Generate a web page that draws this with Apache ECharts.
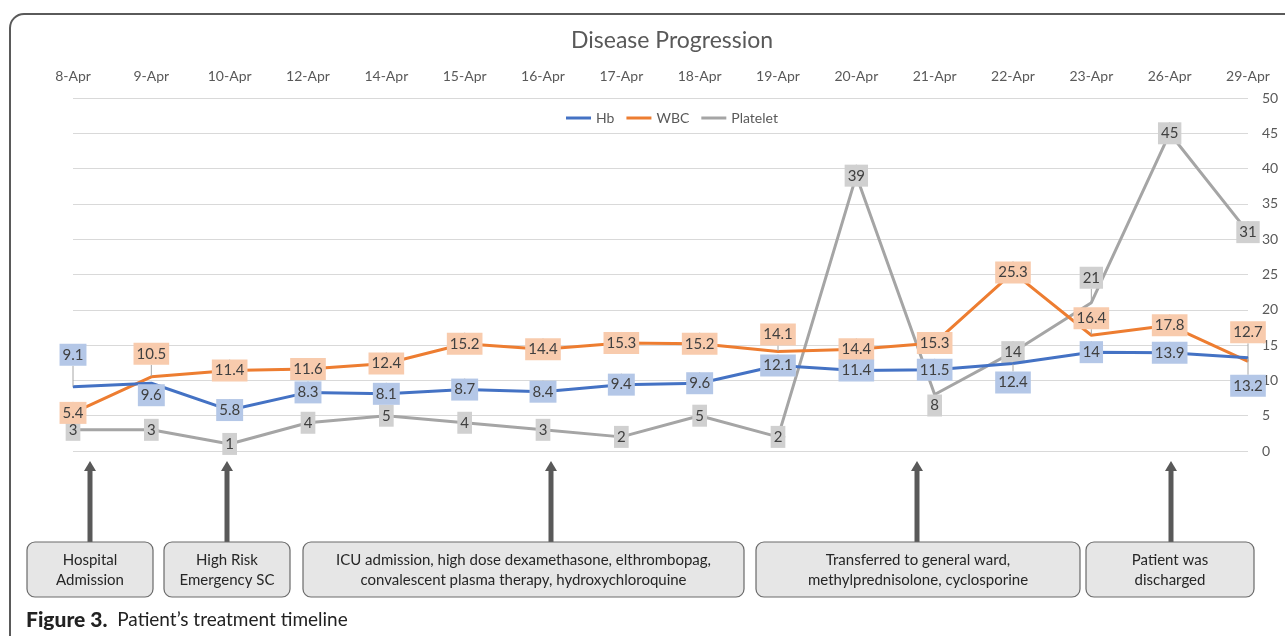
<!DOCTYPE html>
<html><head><meta charset="utf-8">
<script src="https://cdn.jsdelivr.net/npm/echarts@6/dist/echarts.min.js"></script>
<style>html,body{margin:0;padding:0;background:#fff}#c{width:1285px;height:636px}</style>
</head><body><div id="c"></div>
<script>
const categories = ['8-Apr','9-Apr','10-Apr','12-Apr','14-Apr','15-Apr','16-Apr','17-Apr','18-Apr','19-Apr','20-Apr','21-Apr','22-Apr','23-Apr','26-Apr','29-Apr'];
const hb = [9.1, 9.6, 5.8, 8.3, 8.1, 8.7, 8.4, 9.4, 9.6, 12.1, 11.4, 11.5, 12.4, 14, 13.9, 13.2];
const wbc = [5.4, 10.5, 11.4, 11.6, 12.4, 15.2, 14.4, 15.3, 15.2, 14.1, 14.4, 15.3, 25.3, 16.4, 17.8, 12.7];
const platelet = [3, 3, 1, 4, 5, 4, 3, 2, 5, 2, 39, 8, 14, 21, 45, 31];
const yTicks = [0, 5, 10, 15, 20, 25, 30, 35, 40, 45, 50];
const events = [
  'Hospital\nAdmission',
  'High Risk\nEmergency SC',
  'ICU admission, high dose dexamethasone, elthrombopag,\nconvalescent plasma therapy, hydroxychloroquine',
  'Transferred to general ward,\nmethylprednisolone, cyclosporine',
  'Patient was\ndischarged'
];

// label vertical offsets (style only)
const hbDy = [-32, 12, 0, 0, 0, 0, 0, 0, 0, 0, 0, 0, 19, 0, 0, 28];
const wbcDy = [0, -23, 0, 0, 0, 0, 0, 0, 0, -17, 0, 0, 0, -17, 0, -29];
const pltDy = [0, 0, 0, 0, 0, 0, 0, 0, 0, 0, 0, 11, 0, -25, 0, 0];
// annotation layout (pixels)
const boxes = [[27,153,90],[164,290,227],[303,744,551],[756,1080,917],[1086,1254,1171]];

const FONT = 'Lato, "Open Sans", sans-serif';
const chart = echarts.init(document.getElementById('c'), null, {renderer: 'canvas'});

function mkSeries(name, data, color, bg, dys) {
  return {
    name, type: 'line', data,
    symbol: 'circle', symbolSize: 1, showSymbol: true,
    itemStyle: {color},
    lineStyle: {color, width: 3},
    z: name === 'Platelet' ? 3 : (name === 'WBC' ? 4 : 5),
    label: {
      show: true, position: 'inside',
      backgroundColor: bg, padding: [4, 3, 3, 3],
      color: '#404040', fontSize: 15, fontFamily: FONT
    },
    labelLine: {show: true, lineStyle: {color: '#a6a6a6', width: 1}},
    labelLayout: function (p) { return {dy: dys[p.dataIndex]}; }
  };
}

const graphics = [];
graphics.push({type: 'rect', shape: {x: 10, y: 14, width: 1400, height: 800, r: 14},
  style: {fill: 'none', stroke: '#5a5a5a', lineWidth: 2}, silent: true});
boxes.forEach((b, i) => {
  const [x0, x1, ax] = b;
  graphics.push({type: 'rect', shape: {x: ax - 2.5, y: 470, width: 5, height: 72},
    style: {fill: '#595959'}});
  graphics.push({type: 'polygon', shape: {points: [[ax - 6, 471], [ax + 6, 471], [ax, 461]]},
    style: {fill: '#595959'}});
  graphics.push({type: 'rect', shape: {x: x0, y: 542, width: x1 - x0, height: 55, r: 8},
    style: {fill: '#e6e6e6', stroke: '#6a6a6a', lineWidth: 1.2}});
  graphics.push({type: 'text', x: (x0 + x1) / 2, y: 570,
    style: {text: events[i], align: 'center', verticalAlign: 'middle',
      fontSize: 15, lineHeight: 20, fill: '#262626', fontFamily: FONT}});
});
graphics.push({type: 'text', x: 26, y: 620,
  style: {text: '{b|Figure 3.}  Patient\u2019s treatment timeline', verticalAlign: 'middle',
    fontSize: 19, fill: '#222', fontFamily: FONT,
    rich: {b: {fontWeight: 900, fontSize: 21, fill: '#222', fontFamily: FONT}}}});

chart.setOption({
  animation: false,
  backgroundColor: '#fff',
  title: {text: 'Disease Progression', left: 566, top: 24,
    textStyle: {fontSize: 23, fontWeight: 'normal', color: '#595959', fontFamily: FONT}},
  legend: {data: ['Hb', 'WBC', 'Platelet'], left: 561, top: 106, icon: 'rect',
    itemWidth: 25, itemHeight: 3, itemGap: 12,
    textStyle: {fontSize: 14, color: '#595959', fontFamily: FONT}},
  grid: {left: 73, right: 37, top: 98, bottom: 185, containLabel: false},
  xAxis: {type: 'category', data: categories, position: 'top', boundaryGap: false,
    axisLine: {show: false}, axisTick: {show: false}, splitLine: {show: false},
    axisLabel: {color: '#595959', fontSize: 14, margin: 15, fontFamily: FONT, interval: 0}},
  yAxis: {type: 'value', position: 'right', min: yTicks[0], max: yTicks[yTicks.length - 1], interval: 5,
    axisLine: {show: false}, axisTick: {show: false},
    splitLine: {lineStyle: {color: '#d9d9d9', width: 1.2}},
    axisLabel: {color: '#595959', fontSize: 14, margin: 14, fontFamily: FONT}},
  series: [
    mkSeries('Hb', hb, '#4472c4', '#b4c7e7', hbDy),
    mkSeries('WBC', wbc, '#ed7d31', '#f8cbad', wbcDy),
    mkSeries('Platelet', platelet, '#a5a5a5', '#d0d0d0', pltDy)
  ],
  graphic: graphics
});
</script></body></html>
